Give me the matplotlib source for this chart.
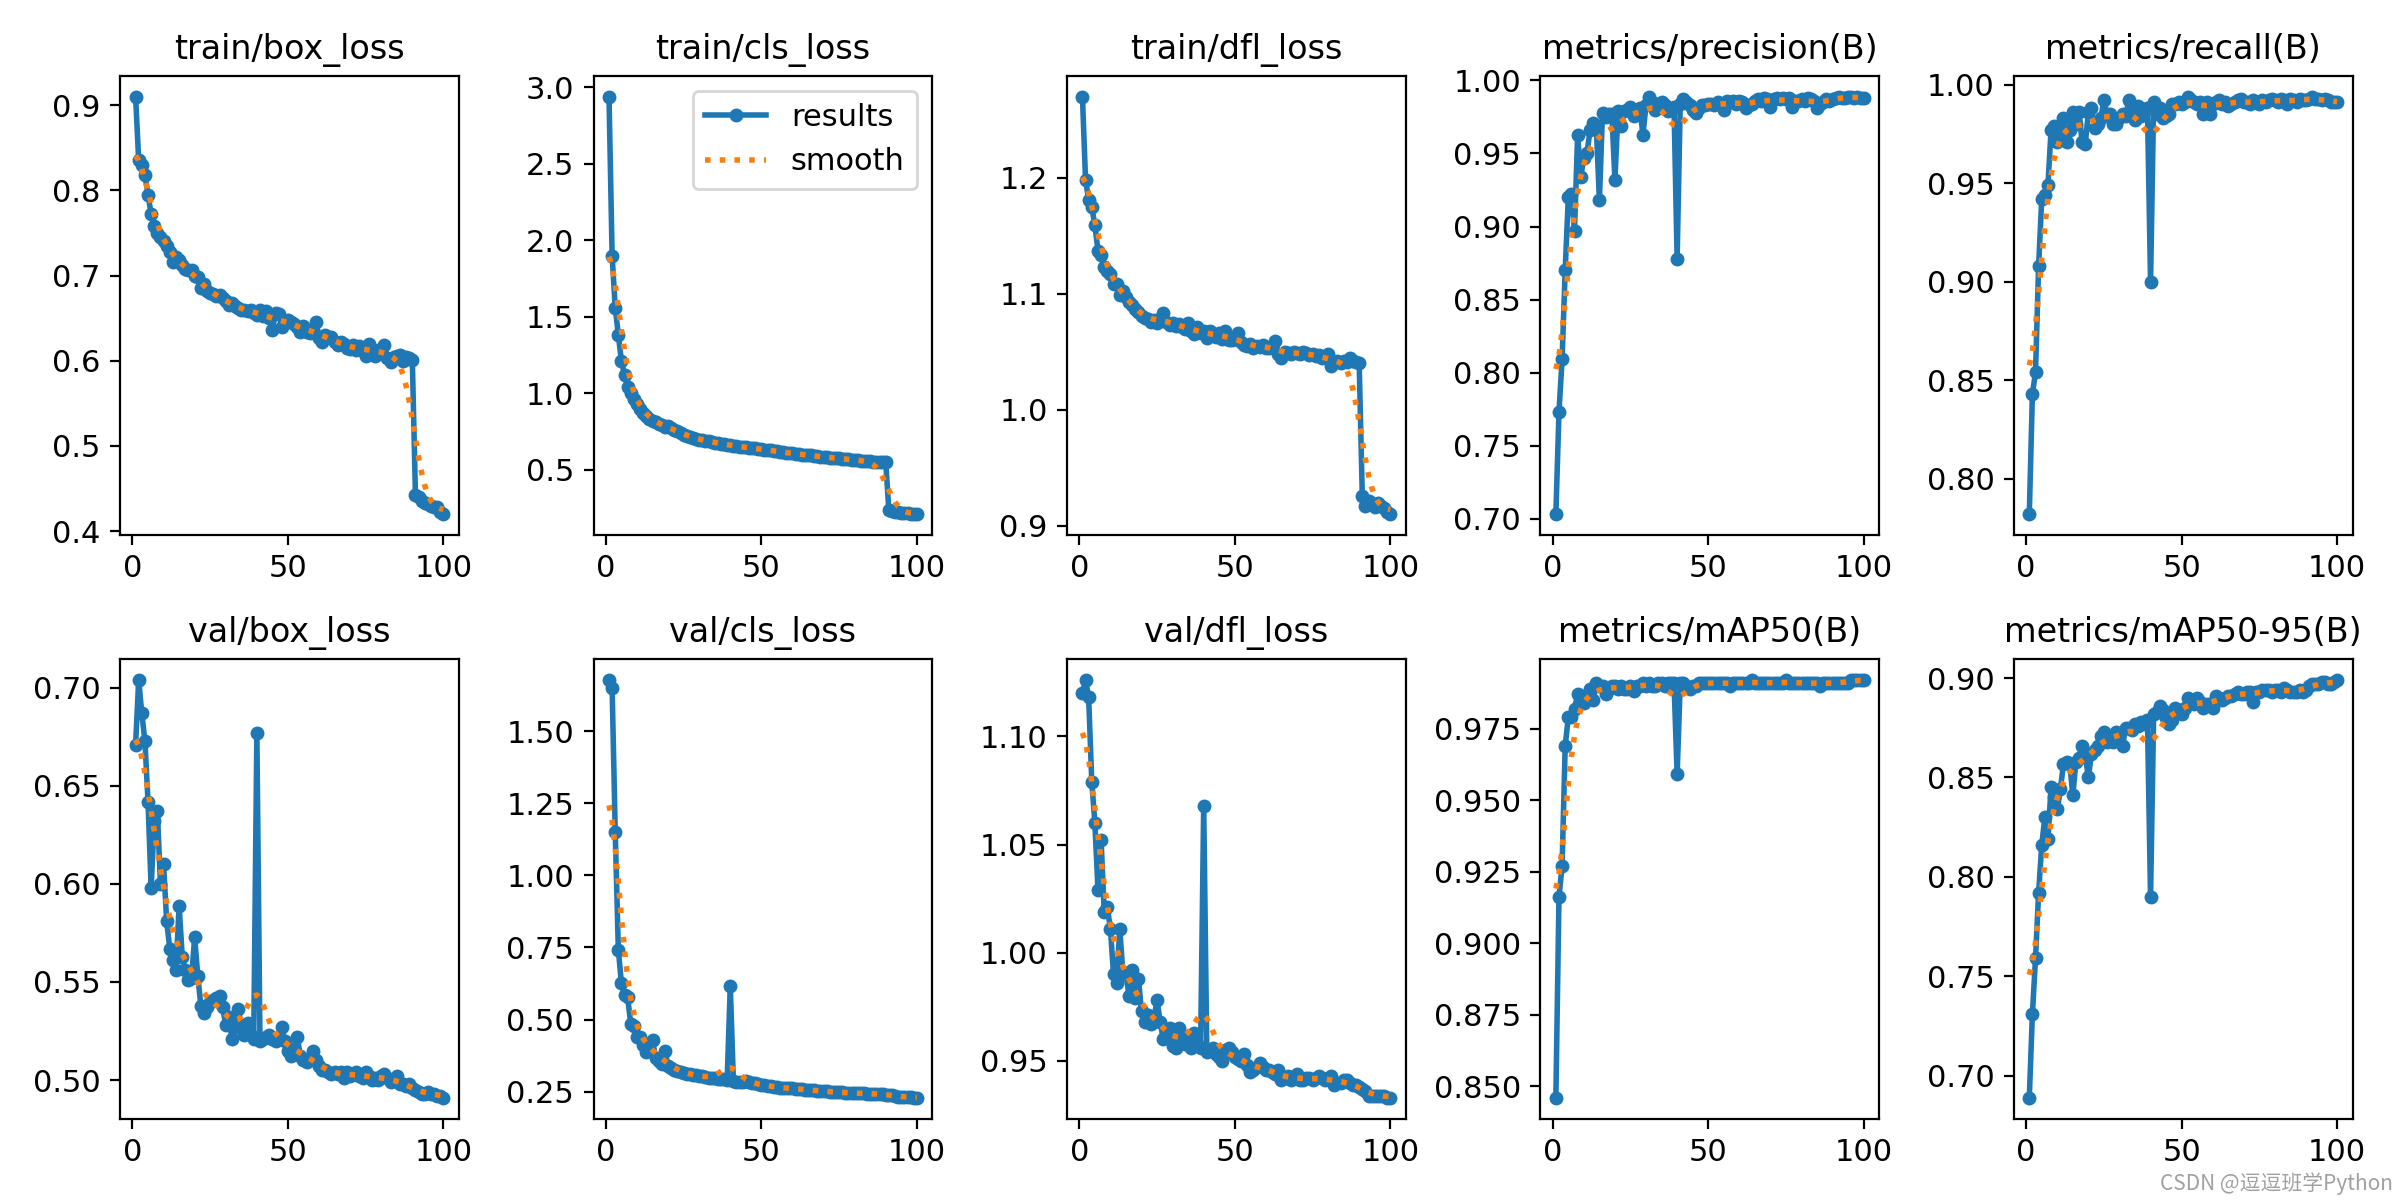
import matplotlib
matplotlib.use("Agg")
import matplotlib.pyplot as plt
import numpy as np

plt.rcParams["font.size"] = 11

epochs = list(range(1, 101))

titles = [
    "train/box_loss", "train/cls_loss", "train/dfl_loss",
    "metrics/precision(B)", "metrics/recall(B)",
    "val/box_loss", "val/cls_loss", "val/dfl_loss",
    "metrics/mAP50(B)", "metrics/mAP50-95(B)",
]

train_box_loss = [
    0.910, 0.835, 0.830, 0.818, 0.795, 0.772, 0.758, 0.750, 0.745, 0.740,
    0.735, 0.728, 0.716, 0.722, 0.718, 0.712, 0.708, 0.706, 0.707, 0.700,
    0.698, 0.685, 0.690, 0.682, 0.679, 0.678, 0.676, 0.677, 0.674, 0.670,
    0.665, 0.668, 0.664, 0.662, 0.660, 0.660, 0.658, 0.659, 0.656, 0.654,
    0.660, 0.652, 0.658, 0.650, 0.636, 0.656, 0.655, 0.640, 0.645, 0.648,
    0.646, 0.643, 0.640, 0.634, 0.641, 0.634, 0.632, 0.636, 0.645, 0.627,
    0.622, 0.630, 0.628, 0.628, 0.622, 0.618, 0.622, 0.620, 0.615, 0.614,
    0.619, 0.613, 0.617, 0.612, 0.606, 0.620, 0.614, 0.605, 0.612, 0.614,
    0.619, 0.603, 0.599, 0.604, 0.606, 0.607, 0.600, 0.604, 0.603, 0.601,
    0.443, 0.440, 0.436, 0.433, 0.432, 0.430, 0.429, 0.428, 0.423, 0.420,
]

train_cls_loss = [
    2.940, 1.900, 1.560, 1.380, 1.210, 1.120, 1.040, 1.000, 0.960, 0.930,
    0.900, 0.870, 0.850, 0.830, 0.820, 0.810, 0.800, 0.790, 0.780, 0.785,
    0.772, 0.762, 0.752, 0.742, 0.730, 0.722, 0.716, 0.710, 0.703, 0.698,
    0.695, 0.690, 0.686, 0.684, 0.678, 0.675, 0.671, 0.668, 0.664, 0.661,
    0.658, 0.655, 0.652, 0.650, 0.646, 0.644, 0.641, 0.640, 0.637, 0.635,
    0.632, 0.630, 0.627, 0.625, 0.620, 0.618, 0.615, 0.612, 0.610, 0.607,
    0.605, 0.603, 0.600, 0.598, 0.596, 0.594, 0.590, 0.588, 0.586, 0.584,
    0.582, 0.580, 0.578, 0.576, 0.574, 0.572, 0.570, 0.568, 0.566, 0.564,
    0.562, 0.560, 0.558, 0.556, 0.555, 0.553, 0.552, 0.550, 0.549, 0.548,
    0.235, 0.228, 0.224, 0.222, 0.220, 0.218, 0.216, 0.214, 0.212, 0.210,
]

train_dfl_loss = [
    1.270, 1.198, 1.181, 1.175, 1.159, 1.137, 1.133, 1.123, 1.120, 1.117,
    1.108, 1.108, 1.099, 1.102, 1.097, 1.093, 1.090, 1.087, 1.084, 1.081,
    1.079, 1.078, 1.076, 1.077, 1.075, 1.078, 1.083, 1.076, 1.073, 1.075,
    1.072, 1.074, 1.071, 1.070, 1.075, 1.068, 1.065, 1.071, 1.066, 1.068,
    1.062, 1.068, 1.065, 1.063, 1.066, 1.061, 1.068, 1.060, 1.060, 1.061,
    1.066, 1.058, 1.056, 1.055, 1.057, 1.053, 1.055, 1.054, 1.056, 1.053,
    1.053, 1.055, 1.059, 1.048, 1.045, 1.050, 1.049, 1.048, 1.050, 1.049,
    1.048, 1.050, 1.049, 1.047, 1.048, 1.046, 1.047, 1.045, 1.046, 1.048,
    1.038, 1.041, 1.042, 1.040, 1.042, 1.041, 1.045, 1.042, 1.041, 1.040,
    0.926, 0.917, 0.921, 0.919, 0.916, 0.920, 0.917, 0.915, 0.912, 0.910,
]

precision = [
    0.703, 0.773, 0.809, 0.870, 0.920, 0.922, 0.897, 0.963, 0.934, 0.947,
    0.950, 0.966, 0.971, 0.969, 0.918, 0.978, 0.975, 0.977, 0.977, 0.932,
    0.979, 0.969, 0.979, 0.980, 0.982, 0.976, 0.978, 0.981, 0.963, 0.983,
    0.989, 0.985, 0.980, 0.984, 0.985, 0.983, 0.979, 0.980, 0.982, 0.878,
    0.984, 0.987, 0.985, 0.983, 0.980, 0.978, 0.981, 0.983, 0.983, 0.984,
    0.984, 0.983, 0.985, 0.984, 0.980, 0.986, 0.985, 0.986, 0.984, 0.986,
    0.985, 0.981, 0.983, 0.984, 0.986, 0.987, 0.986, 0.988, 0.987, 0.982,
    0.987, 0.988, 0.987, 0.988, 0.987, 0.988, 0.982, 0.986, 0.986, 0.987,
    0.986, 0.988, 0.987, 0.986, 0.981, 0.984, 0.985, 0.987, 0.986, 0.987,
    0.988, 0.989, 0.988, 0.988, 0.989, 0.989, 0.988, 0.989, 0.988, 0.988,
]

recall = [
    0.782, 0.843, 0.854, 0.908, 0.942, 0.944, 0.949, 0.977, 0.979, 0.971,
    0.975, 0.983, 0.971, 0.977, 0.986, 0.980, 0.986, 0.971, 0.970, 0.986,
    0.988, 0.978, 0.980, 0.983, 0.992, 0.985, 0.985, 0.980, 0.980, 0.983,
    0.985, 0.984, 0.992, 0.986, 0.982, 0.989, 0.984, 0.987, 0.988, 0.900,
    0.991, 0.985, 0.988, 0.983, 0.984, 0.985, 0.990, 0.990, 0.991, 0.990,
    0.991, 0.994, 0.992, 0.991, 0.990, 0.991, 0.985, 0.991, 0.985, 0.990,
    0.991, 0.992, 0.990, 0.991, 0.989, 0.990, 0.991, 0.992, 0.993, 0.991,
    0.991, 0.990, 0.992, 0.991, 0.990, 0.992, 0.991, 0.992, 0.993, 0.992,
    0.991, 0.993, 0.992, 0.990, 0.993, 0.992, 0.991, 0.993, 0.992, 0.992,
    0.993, 0.994, 0.993, 0.993, 0.992, 0.993, 0.992, 0.991, 0.991, 0.991,
]

val_box_loss = [
    0.671, 0.704, 0.687, 0.673, 0.642, 0.598, 0.632, 0.637, 0.600, 0.610,
    0.581, 0.567, 0.561, 0.556, 0.589, 0.563, 0.556, 0.551, 0.552, 0.573,
    0.553, 0.538, 0.534, 0.537, 0.540, 0.541, 0.542, 0.543, 0.537, 0.528,
    0.532, 0.521, 0.527, 0.536, 0.528, 0.523, 0.529, 0.523, 0.521, 0.677,
    0.520, 0.521, 0.522, 0.523, 0.521, 0.520, 0.522, 0.527, 0.520, 0.515,
    0.512, 0.516, 0.522, 0.512, 0.510, 0.509, 0.511, 0.515, 0.510, 0.507,
    0.505, 0.505, 0.504, 0.503, 0.504, 0.503, 0.504, 0.501, 0.504, 0.502,
    0.503, 0.504, 0.502, 0.501, 0.504, 0.502, 0.500, 0.501, 0.500, 0.502,
    0.503, 0.501, 0.499, 0.500, 0.502, 0.498, 0.498, 0.497, 0.498, 0.496,
    0.495, 0.494, 0.493, 0.493, 0.494, 0.493, 0.493, 0.492, 0.492, 0.491,
]

val_cls_loss = [
    1.677, 1.649, 1.151, 0.741, 0.626, 0.585, 0.577, 0.484, 0.478, 0.441,
    0.441, 0.410, 0.387, 0.416, 0.428, 0.365, 0.355, 0.346, 0.390, 0.340,
    0.332, 0.326, 0.322, 0.318, 0.315, 0.312, 0.310, 0.308, 0.307, 0.305,
    0.303, 0.300, 0.298, 0.297, 0.296, 0.295, 0.294, 0.293, 0.291, 0.617,
    0.287, 0.284, 0.282, 0.283, 0.286, 0.283, 0.280, 0.279, 0.276, 0.274,
    0.272, 0.270, 0.268, 0.266, 0.265, 0.264, 0.263, 0.262, 0.262, 0.261,
    0.260, 0.259, 0.258, 0.257, 0.256, 0.255, 0.254, 0.253, 0.252, 0.252,
    0.251, 0.250, 0.249, 0.248, 0.248, 0.247, 0.246, 0.246, 0.245, 0.245,
    0.244, 0.244, 0.244, 0.243, 0.243, 0.243, 0.242, 0.242, 0.241, 0.240,
    0.239, 0.237, 0.235, 0.233, 0.232, 0.231, 0.230, 0.230, 0.229, 0.229,
]

val_dfl_loss = [
    1.120, 1.126, 1.118, 1.079, 1.060, 1.029, 1.052, 1.019, 1.021, 1.011,
    0.990, 0.986, 1.011, 0.991, 0.990, 0.980, 0.992, 0.979, 0.988, 0.973,
    0.968, 0.971, 0.967, 0.970, 0.978, 0.968, 0.960, 0.961, 0.965, 0.957,
    0.956, 0.965, 0.962, 0.958, 0.961, 0.956, 0.963, 0.958, 0.956, 1.068,
    0.954, 0.955, 0.956, 0.953, 0.952, 0.950, 0.955, 0.956, 0.954, 0.952,
    0.951, 0.950, 0.953, 0.948, 0.945, 0.946, 0.947, 0.949, 0.947, 0.946,
    0.946, 0.945, 0.944, 0.946, 0.941, 0.942, 0.943, 0.941, 0.942, 0.944,
    0.941, 0.941, 0.942, 0.942, 0.941, 0.942, 0.943, 0.942, 0.941, 0.942,
    0.943, 0.939, 0.940, 0.940, 0.941, 0.941, 0.940, 0.939, 0.939, 0.938,
    0.937, 0.936, 0.934, 0.934, 0.934, 0.934, 0.934, 0.934, 0.933, 0.933,
]

map50 = [
    0.846, 0.916, 0.927, 0.969, 0.979, 0.979, 0.982, 0.987, 0.984, 0.984,
    0.986, 0.989, 0.985, 0.991, 0.990, 0.990, 0.987, 0.989, 0.990, 0.990,
    0.989, 0.990, 0.989, 0.989, 0.990, 0.988, 0.990, 0.990, 0.991, 0.990,
    0.991, 0.990, 0.990, 0.991, 0.991, 0.990, 0.991, 0.991, 0.991, 0.959,
    0.991, 0.991, 0.990, 0.989, 0.990, 0.990, 0.991, 0.991, 0.991, 0.991,
    0.991, 0.991, 0.991, 0.991, 0.991, 0.991, 0.990, 0.991, 0.991, 0.991,
    0.991, 0.991, 0.991, 0.992, 0.991, 0.991, 0.991, 0.991, 0.991, 0.991,
    0.991, 0.991, 0.991, 0.991, 0.992, 0.991, 0.991, 0.991, 0.991, 0.991,
    0.991, 0.991, 0.991, 0.991, 0.991, 0.990, 0.991, 0.991, 0.991, 0.991,
    0.991, 0.991, 0.991, 0.991, 0.991, 0.992, 0.992, 0.992, 0.992, 0.992,
]

map50_95 = [
    0.689, 0.731, 0.759, 0.792, 0.816, 0.830, 0.819, 0.845, 0.840, 0.834,
    0.844, 0.857, 0.858, 0.857, 0.841, 0.858, 0.860, 0.866, 0.861, 0.850,
    0.862, 0.864, 0.866, 0.871, 0.873, 0.868, 0.870, 0.868, 0.873, 0.872,
    0.866, 0.875, 0.875, 0.874, 0.877, 0.876, 0.878, 0.877, 0.879, 0.790,
    0.882, 0.883, 0.886, 0.884, 0.880, 0.877, 0.879, 0.885, 0.884, 0.882,
    0.885, 0.890, 0.888, 0.887, 0.890, 0.888, 0.885, 0.887, 0.887, 0.885,
    0.891, 0.890, 0.889, 0.890, 0.891, 0.891, 0.892, 0.893, 0.892, 0.892,
    0.893, 0.893, 0.888, 0.893, 0.893, 0.894, 0.894, 0.894, 0.893, 0.894,
    0.894, 0.893, 0.895, 0.894, 0.893, 0.893, 0.893, 0.894, 0.893, 0.894,
    0.896, 0.897, 0.897, 0.897, 0.898, 0.898, 0.897, 0.897, 0.898, 0.899,
]

series = [
    train_box_loss, train_cls_loss, train_dfl_loss, precision, recall,
    val_box_loss, val_cls_loss, val_dfl_loss, map50, map50_95,
]


def gaussian_smooth(y, sigma=3.0, truncate=4.0):
    # same as scipy.ndimage.gaussian_filter1d with mode="reflect"
    radius = int(truncate * sigma + 0.5)
    k = np.arange(-radius, radius + 1)
    w = np.exp(-0.5 * (k / sigma) ** 2)
    w /= w.sum()
    padded = np.pad(np.asarray(y, dtype=float), radius, mode="symmetric")
    return np.convolve(padded, w, mode="valid")


fig, ax = plt.subplots(2, 5, figsize=(12, 6), tight_layout=True)
ax = ax.ravel()

for i, (title, y) in enumerate(zip(titles, series)):
    ax[i].plot(epochs, y, marker=".", label="results", linewidth=2, markersize=8)
    ax[i].plot(epochs, gaussian_smooth(y), ":", label="smooth", linewidth=2)
    ax[i].set_title(title, fontsize=12)

ax[1].legend()

fig.text(0.997, 0.004, "CSDN @逗逗班学Python", ha="right", va="bottom",
         fontsize=7.5, color="#a0a0a0",
         family=["Noto Sans CJK SC", "DejaVu Sans"])

fig.savefig("out.png", dpi=200)
